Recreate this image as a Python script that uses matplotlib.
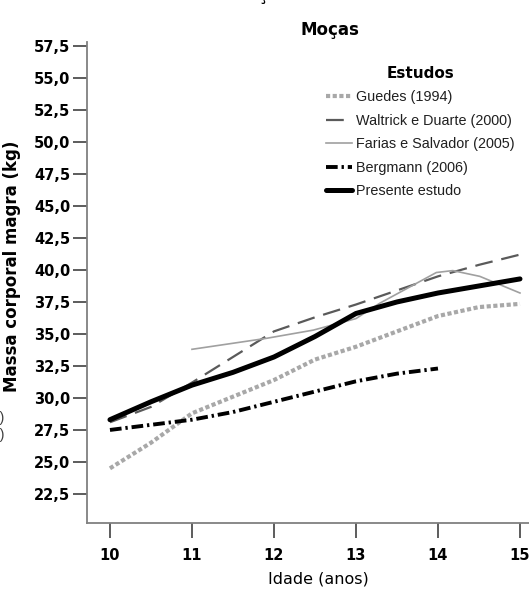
import numpy as np
from matplotlib import pyplot as plt

# Massa corporal magra (kg) por idade, moças
idade = [10, 10.5, 11, 11.5, 12, 12.5, 13, 13.5, 14, 14.5, 15]
guedes = [24.5, 26.5, 28.8, 30.1, 31.4, 33.0, 34.0, 35.2, 36.4, 37.1, 37.35]
waltrick = [28.1, 29.3, 31.2, 33.2, 35.2, 36.3, 37.3, 38.4, 39.5, 40.4, 41.2]
presente = [28.3, 29.7, 31.0, 32.0, 33.2, 34.8, 36.6, 37.5, 38.2, 38.75, 39.3]

idade_farias = [11.0, 11.91, 12.48, 13.0, 13.29, 13.98, 14.18, 14.51, 15.0]
farias = [33.8, 34.66, 35.3, 36.2, 37.4, 39.8, 39.95, 39.5, 38.2]

idade_bergmann = [10, 10.5, 11, 11.5, 12, 12.5, 13, 13.5, 14]
bergmann = [27.5, 27.9, 28.3, 28.9, 29.7, 30.5, 31.3, 31.9, 32.3]

yticks = np.arange(22.5, 57.6, 2.5)
ytick_labels = [('%.1f' % v).replace('.', ',') for v in yticks]
xticks = [10, 11, 12, 13, 14, 15]

plt.rcParams['font.family'] = ['Liberation Sans', 'DejaVu Sans']
bold = ['DejaVu Sans']

fig = plt.figure(figsize=(5.29, 5.92), dpi=100)
ax = fig.add_axes([87 / 529, 69 / 592, 1 - 87 / 529, 481 / 592])

ax.plot(idade, guedes, color='#a8a8a8', lw=3.0, linestyle=(0, (1, 0.6)),
        label='Guedes (1994)')
ax.plot(idade, waltrick, color='#5a5a5a', lw=1.6, linestyle=(0, (8, 4)),
        label='Waltrick e Duarte (2000)')
ax.plot(idade_farias, farias, color='#a0a0a0', lw=1.2,
        label='Farias e Salvador (2005)')
ax.plot(idade_bergmann, bergmann, color='black', lw=2.8,
        linestyle=(0, (3, 1, 0.6, 1)), label='Bergmann (2006)')
ax.plot(idade, presente, color='black', lw=3.6, solid_capstyle='round',
        label='Presente estudo')

ax.set_xlim(9.72, 15.11)
ax.set_ylim(20.23, 57.81)
ax.set_xticks(xticks)
ax.set_yticks(yticks)
ax.set_yticklabels(ytick_labels)

for s in ['top', 'right']:
    ax.spines[s].set_visible(False)
for s in ['left', 'bottom']:
    ax.spines[s].set_color('#808080')
    ax.spines[s].set_linewidth(1.3)
ax.tick_params(axis='y', length=10, width=1.1, color='#303030', pad=2)
ax.tick_params(axis='x', length=11, width=1.1, color='#303030', pad=7)
for lab in ax.get_xticklabels() + ax.get_yticklabels():
    lab.set_family(bold)
    lab.set_fontweight('bold')
    lab.set_fontsize(10.5)

ax.set_xlabel('Idade (anos)', family=bold, fontsize=11.5, labelpad=6,
              x=(318 - 87) / 442)
ax.set_ylabel('Massa corporal magra (kg)', family=bold, fontweight='bold',
              fontsize=12, labelpad=6)
ax.yaxis.set_label_coords(-(87 - 21) / 442, (523 - 266) / 481)
fig.text(330 / 529, 1 - 30 / 592, 'Moças', family=bold, fontweight='bold',
         fontsize=12, ha='center', va='center')

leg = ax.legend(loc='upper left', bbox_to_anchor=((320 - 87) / 442, 1 - (60 - 42) / 481),
                frameon=False, title='Estudos', fontsize=10.4, handlelength=1.8,
                handletextpad=0.3, labelspacing=0.66, borderaxespad=0)
leg.get_title().set_fontweight('bold')
leg.get_title().set_fontsize(11)
leg.get_title().set_family(bold)
for t in leg.get_texts():
    t.set_color('#202020')

# clipped labels from the neighbouring panels
fig.text(5 / 529, 1 - 418 / 592, '(2000)', ha='right', va='center', fontsize=10.4,
         color='#404040')
fig.text(5 / 529, 1 - 435 / 592, '(2005)', ha='right', va='center', fontsize=10.4,
         color='#404040')
fig.text(262 / 529, 1.0, 'ç', family=bold, fontweight='bold', fontsize=12,
         ha='center', va='baseline')

fig.savefig('out.png', dpi=100)
